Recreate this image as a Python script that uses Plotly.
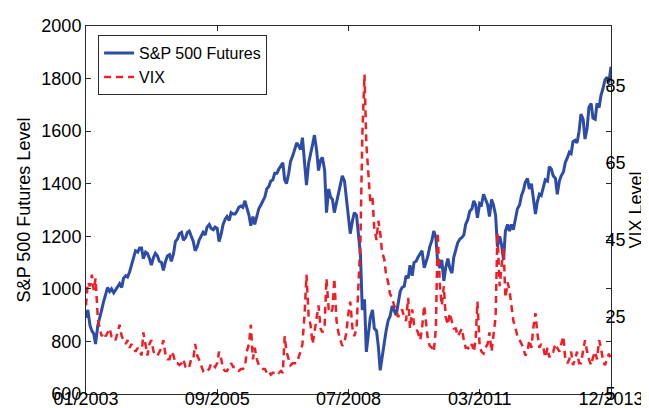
import plotly.graph_objects as go
import pandas as pd

# ---- data (semi-monthly readings: 1st and 15th of each month) ----
SPX_2003 = [890, 920, 860, 840, 830, 790, 860, 885, 920, 950, 985, 1005, 990, 1000, 985, 995, 1010, 1020, 1005, 1040, 1050, 1045, 1065, 1090]
SPX_2004 = [1125, 1145, 1140, 1155, 1155, 1115, 1140, 1135, 1115, 1090, 1120, 1135, 1125, 1105, 1100, 1070, 1105, 1125, 1130, 1105, 1135, 1180, 1190, 1210]
SPX_2005 = [1215, 1185, 1195, 1215, 1220, 1200, 1180, 1145, 1160, 1185, 1200, 1215, 1205, 1235, 1245, 1230, 1225, 1235, 1230, 1180, 1210, 1245, 1265, 1275]
SPX_2006 = [1260, 1290, 1285, 1285, 1295, 1310, 1315, 1310, 1335, 1310, 1280, 1240, 1275, 1245, 1285, 1305, 1320, 1335, 1350, 1380, 1390, 1410, 1415, 1440]
SPX_2007 = [1440, 1455, 1470, 1480, 1415, 1400, 1440, 1485, 1505, 1525, 1555, 1545, 1530, 1575, 1470, 1395, 1480, 1520, 1550, 1585, 1525, 1450, 1490, 1500]
SPX_2008 = [1450, 1290, 1380, 1350, 1340, 1290, 1330, 1370, 1410, 1430, 1410, 1350, 1270, 1210, 1260, 1290, 1280, 1210, 1130, 920, 960, 760, 840, 890]
SPX_2009 = [920, 850, 840, 780, 690, 740, 800, 840, 880, 895, 935, 915, 900, 940, 990, 1005, 1010, 1050, 1040, 1090, 1050, 1100, 1105, 1120]
SPX_2010 = [1135, 1145, 1080, 1100, 1125, 1160, 1185, 1220, 1195, 1100, 1080, 1110, 1030, 1080, 1115, 1080, 1060, 1120, 1145, 1175, 1190, 1195, 1205, 1245]
SPX_2011 = [1265, 1295, 1305, 1335, 1320, 1270, 1325, 1320, 1360, 1340, 1320, 1275, 1340, 1320, 1280, 1160, 1200, 1170, 1110, 1220, 1245, 1220, 1245, 1225]
SPX_2012 = [1275, 1305, 1320, 1355, 1375, 1405, 1420, 1380, 1400, 1340, 1285, 1330, 1360, 1355, 1385, 1415, 1410, 1465, 1455, 1430, 1420, 1360, 1410, 1430]
SPX_2013 = [1445, 1480, 1500, 1520, 1515, 1560, 1565, 1555, 1600, 1665, 1645, 1570, 1610, 1690, 1705, 1650, 1645, 1705, 1690, 1735, 1765, 1795, 1805, 1785, 1845]

VIX_2003 = [28, 34, 33, 36, 32, 35, 25, 22, 20, 21, 20, 21, 22, 20, 20, 19, 21, 23, 20, 19, 18, 19, 17, 18]
VIX_2004 = [17, 16, 17, 16, 15, 21, 17, 15, 18, 19, 16, 15, 15, 16, 17, 19, 15, 14, 14, 16, 15, 13, 13, 12.5]
VIX_2005 = [13, 14, 12, 11.5, 12, 14, 14, 18, 15, 14, 12, 11, 11.5, 11, 11.5, 13, 12.5, 12, 13, 16, 14, 11.5, 11, 11]
VIX_2006 = [12, 13, 12, 12, 11.5, 11, 11.5, 11.5, 12, 16, 18, 23, 14, 17, 14, 12.5, 12, 11.5, 11.5, 10.5, 11, 10, 10.5, 10.5]
VIX_2007 = [11, 10.5, 11, 10.5, 20, 16, 14, 12.5, 13, 13, 13, 14.5, 16, 18, 26, 36, 25, 23, 18, 21, 25, 28, 22, 21]
VIX_2008 = [23, 35, 27, 26, 27, 35, 24, 21, 19, 17.5, 18.5, 21, 26, 29, 22, 20, 22, 32, 45, 72, 88, 70, 62, 55]
VIX_2009 = [56, 48, 45, 50, 47, 42, 40, 36, 34, 31, 30, 28, 27, 25, 26, 27, 25, 24, 30, 22, 27, 23, 22, 21]
VIX_2010 = [19, 22, 28, 23, 19, 17.5, 17, 16, 22, 47, 33, 28, 33, 25, 23, 26, 24, 22, 22, 20, 21, 22, 19, 17]
VIX_2011 = [17, 16.5, 18, 16, 19, 29, 17.5, 16, 15.5, 17, 18, 21, 16, 20, 25, 47, 33, 38, 43, 30, 34, 32, 28, 24]
VIX_2012 = [22, 20, 19, 18, 17, 15, 16, 19, 17, 22, 26, 21, 17, 18, 17, 14.5, 17, 14.5, 16, 16, 18, 17, 16, 18]
VIX_2013 = [20, 14, 13, 14, 16, 12.5, 14, 16, 13, 13, 16, 19, 16, 14, 12.5, 14.5, 16, 14, 19, 17, 13.5, 12.5, 14, 15.5, 14]

X_TICK_LABELS = ["01/2003", "09/2005", "07/2008", "03/2011", "12/2013"]
Y_LEFT_TICKS = [600, 800, 1000, 1200, 1400, 1600, 1800, 2000]
Y_RIGHT_TICKS = [5, 25, 45, 65, 85]

# ---- dates ----
dates = []
for yr in range(2003, 2014):
    for m in range(1, 13):
        dates.append(f"{yr}-{m:02d}-01")
        dates.append(f"{yr}-{m:02d}-15")
dates.append("2013-12-31")
dates = pd.to_datetime(dates)

spx = (SPX_2003 + SPX_2004 + SPX_2005 + SPX_2006 + SPX_2007 + SPX_2008 +
       SPX_2009 + SPX_2010 + SPX_2011 + SPX_2012 + SPX_2013)
vix = (VIX_2003 + VIX_2004 + VIX_2005 + VIX_2006 + VIX_2007 + VIX_2008 +
       VIX_2009 + VIX_2010 + VIX_2011 + VIX_2012 + VIX_2013)

x0 = pd.Timestamp("2003-01-01")
x1 = pd.Timestamp("2013-12-31")
tickvals = [x0 + (x1 - x0) * k / 4 for k in range(5)]

BLUE = "#2d4ca8"
RED = "#f01e24"
AX = "#2a2a2a"
FONT = "Liberation Sans, Arial, Helvetica, sans-serif"

fig = go.Figure()
fig.add_trace(go.Scatter(x=dates, y=spx, name="S&P 500 Futures", mode="lines",
                         line=dict(color=BLUE, width=3), yaxis="y"))
fig.add_trace(go.Scatter(x=dates, y=vix, name="VIX", mode="lines",
                         line=dict(color=RED, width=2.5, dash="7px,5px"), yaxis="y2"))

fig.update_layout(
    width=649, height=408,
    margin=dict(l=78, r=46, t=18, b=22),
    paper_bgcolor="white", plot_bgcolor="white",
    font=dict(family=FONT, size=18, color="black"),
    showlegend=True,
    legend=dict(x=0.023, y=0.975, xanchor="left", yanchor="top",
                bgcolor="white", bordercolor=AX, borderwidth=1,
                font=dict(size=16), tracegroupgap=0),
    xaxis=dict(type="date", range=[x0, x1], tickvals=tickvals, ticktext=X_TICK_LABELS,
               ticks="inside", ticklen=5, tickcolor=AX, showline=True, linecolor=AX,
               linewidth=1, mirror="ticks", showgrid=False, zeroline=False,
               tickfont=dict(size=18), ticklabelstandoff=-12, automargin=False),
    yaxis=dict(range=[600, 2000], tickvals=Y_LEFT_TICKS, ticks="inside", ticklen=5,
               tickcolor=AX, showline=True, linecolor=AX, linewidth=1, mirror="ticks",
               showgrid=False, zeroline=False, tickfont=dict(size=18),
               title=dict(text="S&P 500 Futures Level", font=dict(size=18), standoff=6),
               automargin=False),
    yaxis2=dict(range=[5, 100.6], tickvals=Y_RIGHT_TICKS, overlaying="y", side="right",
                ticks="inside", ticklen=5, tickcolor=AX, showline=True, linecolor=AX,
                linewidth=1, showgrid=False, zeroline=False, tickfont=dict(size=18),
                ticklabelstandoff=-10,
                title=dict(text="VIX Level", font=dict(size=18), standoff=3),
                automargin=False),
)

fig.write_html("out.html")
